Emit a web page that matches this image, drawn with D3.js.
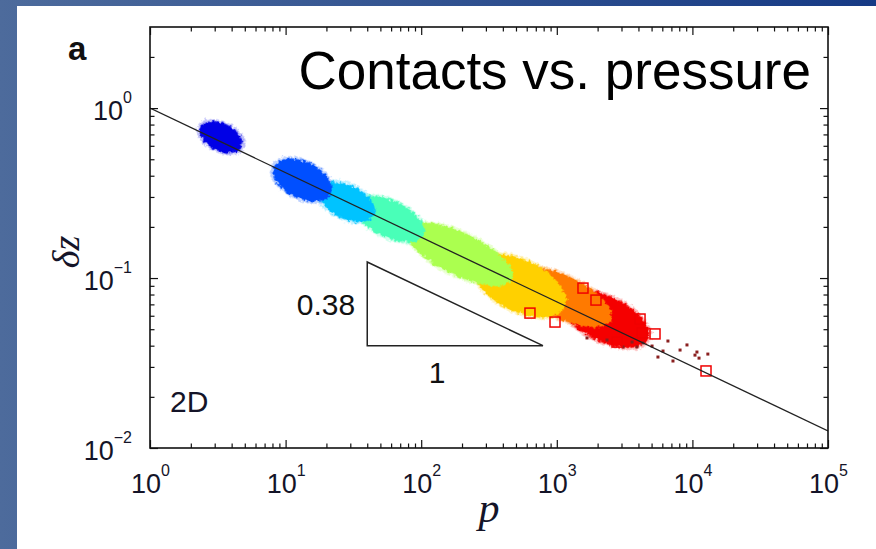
<!DOCTYPE html>
<html>
<head>
<meta charset="utf-8">
<script src="https://cdn.jsdelivr.net/npm/d3@7"></script>
<style>
  body { margin: 0; overflow: hidden; }
  svg { display: block; }
</style>
</head>
<body>
<script>
// axis ranges and major ticks
var pRange = [1, 1e5]
var dzRange = [0.01, 3]
var xMajor = [1, 10, 100, 1e3, 1e4, 1e5]
var xExp = ["0", "1", "2", "3", "4", "5"]
var yMajor = [0.01, 0.1, 1]
var yExp = ["\u22122", "\u22121", "0"]

// power-law fit dz = A p^-0.38
var fitP = [1, 1e5]
var fitA = 1.0
var fitB = -0.38

// slope triangle
var triP = [40, 790]
var triDz = 0.04

// the dense clouds, one per pressure, low p -> high p
var cloudPLo = [2.35, 8.2, 17.9, 33, 80, 250, 500, 1100]
var cloudPHi = [4.75, 21.6, 44.9, 105, 468, 1150, 2500, 4700]
var cloudDz = [0.675, 0.377, 0.28, 0.222, 0.138, 0.09, 0.077, 0.0575]
var cloudSpread = [0.09, 0.12, 0.11, 0.12, 0.14, 0.17, 0.14, 0.15]
var cloudColors = ["#0000e6", "#0050ff", "#00c3ff", "#48ffb8", "#abff50", "#ffd000", "#ff7a00", "#f50000"]

// open squares at the high pressure end
var sqP = [12600, 5300, 4250, 2780, 970, 634, 1560, 4110, 1945]
var sqDz = [0.0284, 0.0469, 0.0475, 0.042, 0.0551, 0.0622, 0.0873, 0.0574, 0.0742]

// scattered dark red points
var dotP = [9120, 10800, 13000, 10450, 6600, 6070, 7190, 2345, 1670, 4320, 3900, 5040, 3590, 5570, 11190, 3080, 8110]
var dotDz = [0.0404, 0.0367, 0.0357, 0.0352, 0.0426, 0.0372, 0.0325, 0.0432, 0.0444, 0.0415, 0.0393, 0.0398, 0.042, 0.0343, 0.0338, 0.0393, 0.0377]

var W = 876, H = 549
var L = 150, R = 828, T = 27, B = 448

var svg = d3.select("body").append("svg").attr("width", W).attr("height", H)
var defs = svg.append("defs")

var grad = defs.append("linearGradient").attr("id", "bg").attr("x1", 0).attr("x2", 1).attr("y1", 0).attr("y2", 0)
grad.append("stop").attr("offset", "0%").attr("stop-color", "#4d6b9c")
grad.append("stop").attr("offset", "100%").attr("stop-color", "#163a85")
svg.append("rect").attr("width", W).attr("height", H).attr("fill", "url(#bg)")
svg.append("rect").attr("x", 17).attr("y", 6).attr("width", W - 17).attr("height", H - 6).attr("fill", "#fff")

defs.append("clipPath").attr("id", "plotclip").append("rect")
  .attr("x", L).attr("y", T).attr("width", R - L).attr("height", B - T)

// ragged edge for the clouds
var f = defs.append("filter").attr("id", "rough").attr("x", "-20%").attr("y", "-20%").attr("width", "140%").attr("height", "140%")
f.append("feTurbulence").attr("type", "fractalNoise").attr("baseFrequency", 0.35).attr("numOctaves", 2).attr("seed", 3).attr("result", "n")
f.append("feDisplacementMap").attr("in", "SourceGraphic").attr("in2", "n").attr("scale", 6).attr("xChannelSelector", "R").attr("yChannelSelector", "G")

var x = d3.scaleLog().domain(pRange).range([L, R])
var y = d3.scaleLog().domain(dzRange).range([B, T])

var plot = svg.append("g").attr("clip-path", "url(#plotclip)")

// angle of the fit line on screen
var ang = Math.atan2(y(Math.pow(10, fitB)) - y(1), x(10) - x(1))
var angDeg = ang * 180 / Math.PI

var clouds = d3.range(cloudPLo.length).map(function(i) {
  var pc = Math.sqrt(cloudPLo[i] * cloudPHi[i])
  var a = (x(cloudPHi[i]) - x(cloudPLo[i])) / 2 / Math.cos(ang)
  var b = (y(cloudDz[i]) - y(cloudDz[i] * Math.pow(10, cloudSpread[i]))) * Math.cos(ang)
  return {cx: x(pc), cy: y(cloudDz[i]), a: a, b: b, color: cloudColors[i]}
}).reverse()

// lighter fringe
plot.selectAll(".halo").data(clouds).enter().append("ellipse")
  .attr("class", "halo")
  .attr("cx", 0).attr("cy", 0)
  .attr("rx", function(d) { return d.a + 3 }).attr("ry", function(d) { return d.b + 2 })
  .attr("transform", function(d) { return "translate(" + d.cx + "," + d.cy + ") rotate(" + angDeg + ")" })
  .attr("fill", function(d) { return d.color }).attr("opacity", 0.25)
  .attr("filter", "url(#rough)")

plot.selectAll(".cloud").data(clouds).enter().append("ellipse")
  .attr("class", "cloud")
  .attr("cx", 0).attr("cy", 0)
  .attr("rx", function(d) { return d.a }).attr("ry", function(d) { return d.b })
  .attr("transform", function(d) { return "translate(" + d.cx + "," + d.cy + ") rotate(" + angDeg + ")" })
  .attr("fill", function(d) { return d.color })
  .attr("filter", "url(#rough)")

plot.selectAll(".dot").data(dotP).enter().append("rect")
  .attr("x", function(d) { return x(d) - 1.5 })
  .attr("y", function(d, i) { return y(dotDz[i]) - 1.5 })
  .attr("width", 3).attr("height", 3).attr("fill", "#8a2020")

plot.selectAll(".sq").data(sqP).enter().append("rect")
  .attr("x", function(d) { return x(d) - 5 })
  .attr("y", function(d, i) { return y(sqDz[i]) - 5 })
  .attr("width", 10).attr("height", 10)
  .attr("fill", "none").attr("stroke", "#f00000").attr("stroke-width", 1.5)

// fit line
var line = d3.line().x(function(d) { return x(d) }).y(function(d) { return y(fitA * Math.pow(d, fitB)) })
plot.append("path").datum(fitP).attr("d", line)
  .attr("fill", "none").attr("stroke", "#222").attr("stroke-width", 1.3)

// slope triangle
var triTop = triDz * Math.pow(triP[1] / triP[0], -fitB)
svg.append("path")
  .attr("d", "M" + x(triP[0]) + "," + y(triTop) + "L" + x(triP[0]) + "," + y(triDz) + "L" + x(triP[1]) + "," + y(triDz) + "Z")
  .attr("fill", "none").attr("stroke", "#222").attr("stroke-width", 1.5)

var font = "'Liberation Sans', Arial, Helvetica, sans-serif"
svg.append("text").attr("x", x(triP[0]) - 12).attr("y", (y(triTop) + y(triDz)) / 2 + 11)
  .attr("text-anchor", "end").attr("font-family", font).attr("font-size", 30).attr("fill", "#111").text("0.38")
svg.append("text").attr("x", (x(triP[0]) + x(triP[1])) / 2 - 18).attr("y", y(triDz) + 37)
  .attr("text-anchor", "middle").attr("font-family", font).attr("font-size", 30).attr("fill", "#111").text("1")

// axes, ticks point inward on all four sides
var xMinor = x.ticks().filter(function(d) { return xMajor.indexOf(d) < 0 })
var yMinor = y.ticks().filter(function(d) { return yMajor.indexOf(d) < 0 && d < dzRange[1] })

function ticks(axisFn, scale, vals, size, tr) {
  var g = svg.append("g").attr("transform", tr)
    .call(axisFn(scale).tickValues(vals).tickSize(-size).tickFormat(""))
  g.select(".domain").remove()
  g.selectAll("line").attr("stroke", "#111").attr("stroke-width", 1.2)
  return g
}

ticks(d3.axisBottom, x, xMinor, 4.5, "translate(0," + B + ")")
ticks(d3.axisTop, x, xMinor, 4.5, "translate(0," + T + ")")
ticks(d3.axisLeft, y, yMinor, 4.5, "translate(" + L + ",0)")
ticks(d3.axisRight, y, yMinor, 4.5, "translate(" + R + ",0)")
ticks(d3.axisTop, x, xMajor, 8, "translate(0," + T + ")")
ticks(d3.axisRight, y, yMajor, 8, "translate(" + R + ",0)")

var gx = svg.append("g").attr("transform", "translate(0," + B + ")")
  .call(d3.axisBottom(x).tickValues(xMajor).tickSize(-8).tickFormat(function(d, i) { return xExp[i] }))
gx.select(".domain").remove()
gx.selectAll("line").attr("stroke", "#111").attr("stroke-width", 1.2)
gx.selectAll(".tick text").each(function(d, i) {
  var t = d3.select(this)
  t.text(null).attr("y", 45).attr("dy", null)
    .attr("font-family", font).attr("font-size", 27).attr("fill", "#141428").attr("text-anchor", "middle")
  t.append("tspan").text("10")
  t.append("tspan").attr("dy", -17).attr("font-size", 16).text(xExp[i])
})

var gy = svg.append("g").attr("transform", "translate(" + L + ",0)")
  .call(d3.axisLeft(y).tickValues(yMajor).tickSize(-8).tickFormat(function(d, i) { return yExp[i] }))
gy.select(".domain").remove()
gy.selectAll("line").attr("stroke", "#111").attr("stroke-width", 1.2)
gy.selectAll(".tick text").each(function(d, i) {
  var t = d3.select(this)
  t.text(null).attr("x", -18).attr("y", 11).attr("dy", null)
    .attr("font-family", font).attr("font-size", 27).attr("fill", "#141428").attr("text-anchor", "end")
  t.append("tspan").text("10")
  t.append("tspan").attr("dy", -17).attr("font-size", 16).text(yExp[i])
})

// frame
svg.append("rect").attr("x", L).attr("y", T).attr("width", R - L).attr("height", B - T)
  .attr("fill", "none").attr("stroke", "#111").attr("stroke-width", 1.6)

// labels
var serif = "'Liberation Serif', 'Times New Roman', serif"
svg.append("text").attr("transform", "translate(79,252) rotate(-90)")
  .attr("text-anchor", "middle").attr("font-family", serif).attr("font-style", "italic")
  .attr("font-size", 38).attr("fill", "#141428").text("\u03b4z")
svg.append("text").attr("x", 489).attr("y", 522)
  .attr("text-anchor", "middle").attr("font-family", serif).attr("font-style", "italic")
  .attr("font-size", 42).attr("fill", "#141428").text("p")

svg.append("text").attr("x", 68).attr("y", 60)
  .attr("font-family", font).attr("font-weight", "bold").attr("font-size", 33).attr("fill", "#111").text("a")
svg.append("text").attr("x", 170).attr("y", 412)
  .attr("font-family", font).attr("font-size", 30).attr("fill", "#141428").text("2D")

svg.append("text").attr("x", 811).attr("y", 89).attr("text-anchor", "end")
  .attr("font-family", font).attr("font-size", 53).attr("fill", "#000").text("Contacts vs. pressure")
</script>
</body>
</html>
